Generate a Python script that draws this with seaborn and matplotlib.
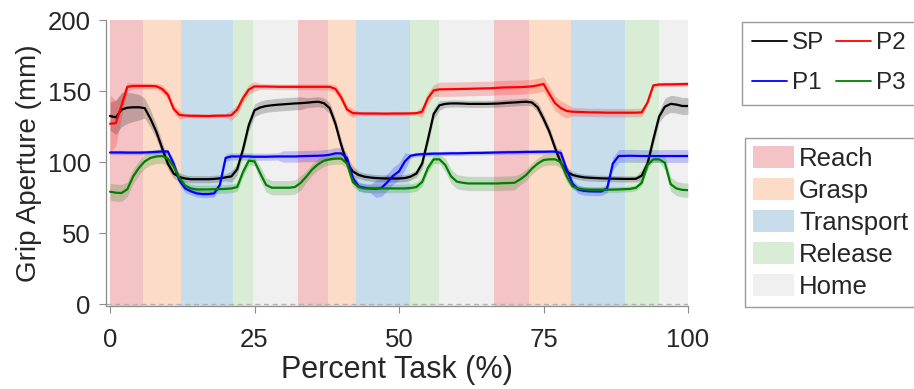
import numpy as np
import pandas as pd
import matplotlib
matplotlib.use("Agg")
import matplotlib.pyplot as plt
from matplotlib.lines import Line2D
from matplotlib.patches import Patch
import seaborn as sns

# ---------------- data ----------------
pct = list(range(0, 101))

sp = [132.5, 131.5, 137.0, 138.3, 138.6, 138.6, 138.0, 130.5, 121.5, 110.0,
      99.0, 92.0, 89.5, 88.5, 88.0, 88.0, 88.0, 88.0, 88.2, 88.6,
      89.3, 90.0, 95.0, 109.0, 126.0, 136.5, 138.5, 139.5, 140.0, 140.4,
      140.7, 141.0, 141.3, 141.5, 141.8, 142.2, 142.5, 141.5, 138.0, 127.0,
      112.0, 99.5, 93.5, 91.0, 89.8, 89.2, 88.8, 88.6, 88.5, 88.5,
      88.5, 88.8, 89.8, 92.0, 99.0, 116.0, 134.0, 140.0, 141.0, 141.3,
      141.3, 141.2, 141.0, 141.0, 141.0, 141.0, 141.1, 141.2, 141.5, 141.8,
      142.0, 142.3, 142.5, 142.0, 138.5, 130.5, 121.5, 110.0, 99.5, 93.5,
      91.0, 90.0, 89.3, 89.0, 88.8, 88.6, 88.5, 88.4, 88.3, 88.2,
      88.2, 88.3, 90.5, 99.0, 116.0, 132.0, 139.0, 141.0, 140.5, 139.5, 139.5]

p1 = [106.8, 106.8, 106.8, 106.7, 106.7, 106.7, 106.8, 107.0, 107.2, 107.5,
      107.5, 99.0, 87.0, 81.5, 79.5, 78.0, 77.5, 77.5, 78.0, 84.0,
      103.0, 104.0, 104.0, 104.0, 104.0, 103.8, 103.8, 103.8, 103.9, 104.0,
      104.0, 104.0, 104.0, 104.2, 104.3, 104.4, 104.5, 104.7, 105.2, 106.2,
      106.2, 103.0, 89.0, 83.0, 82.0, 81.5, 81.2, 82.0, 86.0, 90.5,
      93.5, 100.5, 104.5, 105.3, 105.6, 105.8, 106.0, 106.0, 106.1, 106.2,
      106.2, 106.3, 106.4, 106.5, 106.5, 106.6, 106.7, 106.8, 106.9, 107.0,
      107.0, 107.1, 107.2, 107.2, 107.3, 107.3, 107.4, 107.4, 106.5, 95.0,
      85.0, 80.8, 79.8, 79.5, 79.4, 79.4, 81.5, 99.0, 104.3, 104.4,
      104.5, 104.4, 104.3, 104.3, 104.3, 104.3, 104.3, 104.3, 104.3, 104.3, 104.3]

p2 = [127.0, 127.5, 140.0, 153.0, 153.6, 153.6, 153.6, 153.6, 153.4, 151.5,
      147.5, 137.5, 133.2, 132.8, 132.6, 132.6, 132.5, 132.4, 132.6, 132.7,
      132.7, 133.0, 137.0, 145.0, 151.0, 153.3, 153.2, 153.2, 153.1, 153.0,
      153.0, 153.0, 153.0, 153.0, 153.0, 153.0, 153.0, 153.0, 153.0, 151.5,
      145.5, 137.0, 134.5, 134.3, 134.2, 134.2, 134.2, 134.1, 134.1, 134.2,
      134.2, 134.2, 134.3, 134.4, 135.5, 145.0, 150.5, 151.2, 151.3, 151.3,
      151.4, 151.5, 151.6, 151.7, 151.8, 151.9, 152.0, 152.3, 152.5, 152.6,
      152.7, 152.8, 153.0, 153.3, 154.0, 155.0, 148.0, 141.5, 138.0, 136.0,
      135.5, 135.3, 135.2, 135.0, 135.0, 134.9, 134.8, 134.8, 134.8, 134.8,
      134.8, 134.8, 135.0, 142.0, 154.0, 154.6, 154.7, 154.7, 154.8, 154.9, 155.0]

p3 = [79.2, 78.5, 78.3, 81.0, 90.0, 96.0, 100.5, 103.0, 104.0, 104.3,
      102.5, 97.0, 89.0, 83.5, 81.5, 80.8, 80.8, 80.8, 81.0, 81.0,
      81.2, 81.5, 82.5, 93.0, 101.0, 100.5, 92.0, 84.0, 82.0, 82.0,
      82.0, 82.0, 82.5, 85.5, 90.0, 95.0, 98.5, 101.0, 102.0, 102.5,
      102.5, 99.0, 86.0, 82.5, 81.5, 81.5, 81.5, 81.5, 81.5, 81.5,
      81.5, 81.5, 81.8, 82.5, 86.0, 96.0, 102.0, 102.0, 98.0, 90.0,
      86.3, 85.5, 85.0, 85.0, 85.0, 85.0, 85.0, 85.0, 85.2, 85.3,
      85.5, 88.0, 91.0, 95.5, 99.0, 101.5, 102.0, 102.0, 100.0, 90.0,
      83.0, 81.5, 80.8, 80.6, 80.6, 80.6, 80.6, 80.7, 80.8, 81.0,
      81.2, 82.0, 85.5, 98.0, 102.0, 102.0, 99.5, 84.5, 81.5, 80.5, 80.3]

# band half-widths (spread)
sp_sd = [10, 12, 12, 11, 10, 9, 7, 6, 5, 4.5,
         4, 3.5, 3, 2.5, 2.5, 2.5, 2.5, 2.5, 2.5, 2.5,
         2.5, 4, 4, 4, 4, 4.5, 4.5, 4.5, 4.5, 4.5,
         4.5, 4.5, 4.5, 4.5, 3.5, 3.5, 3.5, 3.5, 4, 4,
         4, 4, 4, 2.5, 2.5, 2.5, 2.5, 2.5, 2.5, 2.5,
         2.5, 2.5, 2.5, 2.5, 3.5, 3.5, 3.5, 3.5, 2.5, 2.5,
         2.5, 2.5, 2.5, 2.5, 2.5, 2.5, 2.5, 2.5, 2.5, 2.5,
         2.5, 2.5, 2.5, 2.5, 3.5, 3.5, 3.5, 3.5, 3.5, 3.5,
         2.2, 2.2, 2.2, 2.2, 2.2, 2.2, 2.2, 2.2, 2.2, 2.2,
         2.2, 2.2, 4, 4, 4, 4, 6, 6, 6, 6, 6]

p1_sd = [1.5, 1.5, 1.5, 1.5, 1.5, 1.5, 1.5, 1.5, 1.5, 1.5,
         1.5, 3, 3, 3, 2.5, 2.5, 2.5, 2.5, 2.5, 2.5,
         2.5, 2.5, 2.5, 2.5, 2.5, 2.5, 2.5, 2.5, 2.5, 2.5,
         4, 4, 4, 4, 4, 4, 4, 4, 4, 4,
         4, 3, 3, 3, 3, 3, 6, 6, 6, 6,
         6, 6, 1.5, 1.5, 1.5, 1.5, 1.5, 1.5, 1.5, 1.5,
         1.5, 1.5, 1.5, 1.5, 1.5, 1.5, 1.5, 1.5, 1.5, 1.5,
         1.5, 1.5, 1.5, 1.5, 1.5, 1.5, 1.5, 1.5, 3, 3,
         3, 3, 3, 3, 3, 3, 3, 4.5, 4.5, 4.5,
         4.5, 4.5, 4.5, 4.5, 4.5, 4.5, 4.5, 4.5, 4.5, 4.5, 4.5]

p2_sd = [20, 16, 8, 3, 2, 2, 2, 2, 2, 3,
         3, 3, 3, 1.5, 1.5, 1.5, 1.5, 1.5, 1.5, 1.5,
         1.5, 3.5, 3.5, 3.5, 3.5, 3.5, 2, 2, 2, 2,
         2, 2, 2, 2, 2, 2, 2, 2, 2, 3,
         3, 3, 3, 1.5, 1.5, 1.5, 1.5, 1.5, 1.5, 1.5,
         1.5, 1.5, 1.5, 1.5, 4, 4, 4, 5, 5, 5,
         5, 5, 5, 5, 5, 5, 5, 5, 5, 5,
         5, 5, 5, 5, 5, 5, 5, 5, 5, 5,
         3, 3, 3, 3, 3, 3, 3, 3, 3, 3,
         3, 3, 3, 1.5, 1.5, 1.5, 1.5, 1.5, 1.5, 1.5, 1.5]

p3_sd = [6, 6, 6, 5, 5, 5, 5, 5, 5, 5,
         5, 3, 3, 3, 3, 3, 3, 3, 3, 3,
         3, 3, 3, 3, 3, 3, 5, 5, 5, 5,
         5, 5, 5, 5, 4, 4, 4, 4, 4, 4,
         4, 3, 3, 3, 3, 3, 3, 3, 3, 3,
         3, 3, 3, 3, 3, 3, 3, 3, 5, 5,
         5, 5, 5, 5, 5, 5, 5, 5, 5, 5,
         5, 4, 4, 4, 4, 4, 4, 4, 4, 4,
         2, 2, 2, 2, 2, 2, 2, 2, 2, 2,
         2, 2, 2, 2, 2, 2, 5, 5, 5, 5, 5]

phase_names = ["Reach", "Grasp", "Transport", "Release", "Home"]
phase_starts = [0, 5.66, 12.24, 21.24, 24.81,
                32.49, 37.68, 42.58, 51.98, 56.90,
                66.35, 72.48, 79.75, 89.15, 94.98]
phase_end = 100
phase_colors = {"Reach": "#f4c3c5", "Grasp": "#fcdcc7", "Transport": "#c8ddec",
                "Release": "#d9ecd5", "Home": "#f0f0f0"}

series_names = ["SP", "P1", "P2", "P3"]
series_colors = {"SP": "#000000", "P1": "#0000ff", "P2": "#ff0000", "P3": "#008000"}

# ---------------- figure ----------------
sns.set_theme(style="white")
plt.rcParams["font.family"] = ["Liberation Sans", "DejaVu Sans"]

fig = plt.figure(figsize=(9.14, 3.89), dpi=100)
ax = fig.add_axes([106 / 914, 1 - 306 / 389, (688 - 106) / 914, (306 - 20) / 389])

bounds = phase_starts + [phase_end]
for i, s in enumerate(phase_starts):
    name = phase_names[i % len(phase_names)]
    ax.axvspan(s, bounds[i + 1], color=phase_colors[name], lw=0, zorder=0)

ax.axhline(0, color="#b0b0b0", lw=0.9, ls=(0, (4, 3)), zorder=1)

df = pd.DataFrame({"pct": pct, "SP": sp, "P1": p1, "P2": p2, "P3": p3})
sds = {"SP": sp_sd, "P1": p1_sd, "P2": p2_sd, "P3": p3_sd}
for name in series_names:
    vals = np.array(df[name], dtype=float)
    sd = np.array(sds[name], dtype=float)
    ax.fill_between(df["pct"], vals - sd, vals + sd, color=series_colors[name],
                    alpha=0.2, lw=0, zorder=2)
for name in series_names:
    sns.lineplot(data=df, x="pct", y=name, color=series_colors[name], lw=1.6,
                 ax=ax, legend=False, zorder=3)

ax.set_xlim(-0.7, 100)
ax.set_ylim(-1.2, 200)
ax.set_xticks([0, 25, 50, 75, 100])
ax.set_yticks([0, 50, 100, 150, 200])
ax.tick_params(axis="both", which="major", direction="out", length=5, width=0.8,
               color="#8c8c8c", labelsize=18.5, labelcolor="#262626",
               bottom=True, left=True)
ax.tick_params(axis="x", pad=11)
ax.tick_params(axis="y", pad=6)
for side in ["top", "right"]:
    ax.spines[side].set_visible(False)
for side in ["left", "bottom"]:
    ax.spines[side].set_color("#8c8c8c")
    ax.spines[side].set_linewidth(0.9)
ax.set_xlabel("Percent Task (%)", fontsize=22, color="#262626", labelpad=2)
ax.set_ylabel("Grip Aperture (mm)", fontsize=20, color="#262626", labelpad=4)

# legends
line_handles = [Line2D([0], [0], color=series_colors[n], lw=1.3) for n in series_names]
leg1 = fig.legend(line_handles, series_names, ncol=2, loc="upper left",
                  bbox_to_anchor=(742 / 914, 1 - 22 / 389), fontsize=17.5,
                  frameon=True, fancybox=False, edgecolor="#9a9a9a", framealpha=1,
                  handlelength=1.45, handletextpad=0.2, columnspacing=0.45,
                  labelspacing=0.75, borderpad=0.42, borderaxespad=0)
leg1.get_frame().set_linewidth(1.0)

patch_handles = [Patch(facecolor=phase_colors[n], edgecolor="none") for n in phase_names]
leg2 = fig.legend(patch_handles, phase_names, loc="upper left",
                  bbox_to_anchor=(745 / 914, 1 - 138 / 389), fontsize=18.5,
                  frameon=True, fancybox=False, edgecolor="#9a9a9a", framealpha=1,
                  handlelength=1.6, handleheight=0.95, handletextpad=0.2,
                  labelspacing=0.28, borderpad=0.3, borderaxespad=0)
leg2.get_frame().set_linewidth(1.0)

fig.savefig("out.png", dpi=100)
